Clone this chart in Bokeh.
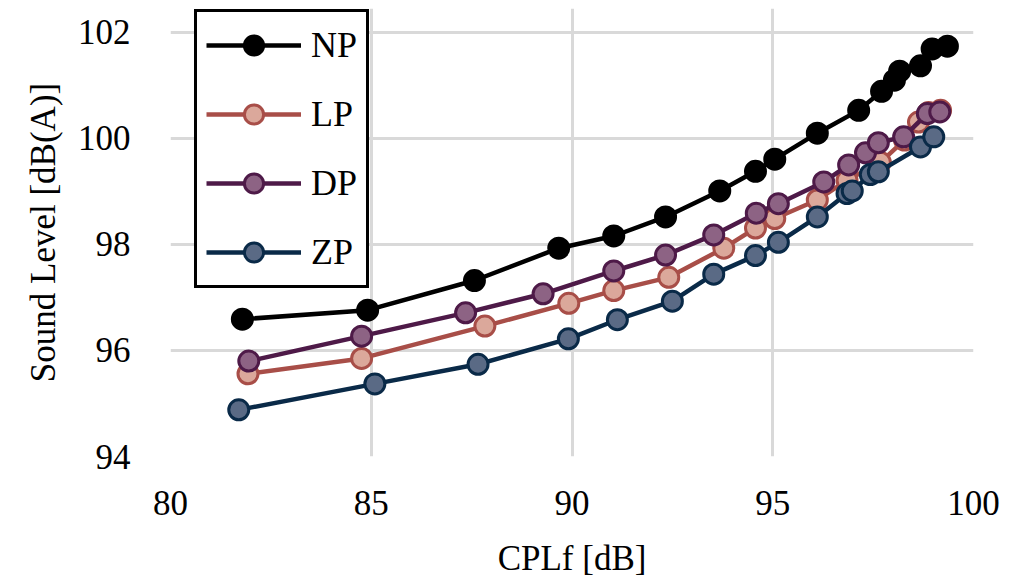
from bokeh.plotting import figure
from bokeh.models import Legend, LegendItem, FixedTicker
from bokeh.embed import file_html
from bokeh.resources import INLINE

# ---- data ----
np_x = [81.79, 84.91, 87.57, 89.67, 91.04, 92.33, 93.68, 94.57, 95.05, 96.11, 97.14, 97.71, 98.03, 98.16, 98.68, 98.97, 99.35]
np_y = [96.59, 96.76, 97.32, 97.93, 98.16, 98.52, 99.01, 99.38, 99.61, 100.10, 100.53, 100.89, 101.10, 101.27, 101.37, 101.69, 101.74]

lp_x = [81.93, 84.76, 87.83, 89.92, 91.04, 92.41, 93.78, 94.57, 95.05, 96.11, 96.85, 97.68, 98.28, 98.63, 98.88, 99.18]
lp_y = [95.56, 95.85, 96.46, 96.89, 97.13, 97.38, 97.93, 98.31, 98.49, 98.84, 99.21, 99.55, 99.97, 100.31, 100.49, 100.53]

dp_x = [81.95, 84.76, 87.35, 89.28, 91.04, 92.33, 93.53, 94.59, 95.14, 96.27, 96.89, 97.31, 97.63, 98.26, 98.85, 99.16]
dp_y = [95.80, 96.27, 96.71, 97.07, 97.50, 97.80, 98.18, 98.59, 98.77, 99.18, 99.50, 99.73, 99.92, 100.03, 100.47, 100.50]

zp_x = [81.70, 85.09, 87.66, 89.91, 91.13, 92.50, 93.53, 94.57, 95.14, 96.11, 96.85, 96.98, 97.43, 97.63, 98.68, 99.01]
zp_y = [94.88, 95.37, 95.74, 96.22, 96.58, 96.93, 97.44, 97.79, 98.04, 98.52, 98.96, 99.01, 99.32, 99.37, 99.84, 100.03]

series_names = ["NP", "LP", "DP", "ZP"]
x_ticks = [80, 85, 90, 95, 100]
y_ticks = [94, 96, 98, 100, 102]

FONT = "Liberation Serif"

# frame spans 8px..457px vertically; the chart area (94..102) occupies the lower 425px,
# the extra headroom lets the legend box rise above the chart border
Y_TOP = 102 + 24 * 8 / 425

p = figure(width=1019, height=580, x_range=(80, 100), y_range=(94, Y_TOP),
           output_backend="svg", toolbar_location=None,
           min_border_left=170, min_border_right=46,
           min_border_top=8, min_border_bottom=123)

p.outline_line_color = None
p.background_fill_color = "white"
p.border_fill_color = "white"

p.xaxis.ticker = FixedTicker(ticks=x_ticks)
p.yaxis.ticker = FixedTicker(ticks=y_ticks)

for g in (p.xgrid[0], p.ygrid[0]):
    g.grid_line_color = "#d9d9d9"
    g.grid_line_width = 3
p.xgrid[0].bounds = (94, 102)
p.ygrid[0].bounds = (80, 100)

for ax in (p.xaxis[0], p.yaxis[0]):
    ax.axis_line_color = None
    ax.major_tick_line_color = None
    ax.minor_tick_line_color = None
    ax.major_label_text_font = FONT
    ax.major_label_text_font_size = "35px"
    ax.major_label_text_color = "black"
    ax.axis_label_text_font = FONT
    ax.axis_label_text_font_size = "35px"
    ax.axis_label_text_font_style = "normal"
    ax.axis_label_text_color = "black"

p.yaxis.bounds = (94, 102)
p.xaxis.axis_label = "CPLf [dB]"
p.yaxis.axis_label = "Sound Level [dB(A)]"
p.xaxis.major_label_standoff = 28
p.xaxis.axis_label_standoff = 21
p.yaxis.major_label_standoff = 34
p.yaxis.axis_label_standoff = 12

styles = [
    ("black", "black", "black"),
    ("#a84e48", "#dba89b", "#a84e48"),
    ("#4e1a48", "#8d6384", "#4e1a48"),
    ("#0a2a48", "#5a6a85", "#0a2a48"),
]
data = [(np_x, np_y), (lp_x, lp_y), (dp_x, dp_y), (zp_x, zp_y)]

items = []
for name, (xs, ys), (lc, fc, oc) in zip(series_names, data, styles):
    ln = p.line(xs, ys, line_color=lc, line_width=4.5)
    sc = p.scatter(xs, ys, size=20, fill_color=fc, line_color=oc, line_width=3)
    items.append(LegendItem(label=name, renderers=[ln, sc]))

legend = Legend(items=items, location=(24, 168))
legend.border_line_color = "black"
legend.border_line_alpha = 1
legend.border_line_width = 3.5
legend.background_fill_color = "white"
legend.background_fill_alpha = 1
legend.label_text_font = FONT
legend.label_text_font_size = "36px"
legend.label_text_color = "black"
legend.glyph_width = 95
legend.glyph_height = 48
legend.label_height = 48
legend.spacing = 21
legend.padding = 9
legend.margin = 0
legend.label_standoff = 10
p.add_layout(legend, "center")

open("out.html", "w").write(file_html(p, INLINE))
